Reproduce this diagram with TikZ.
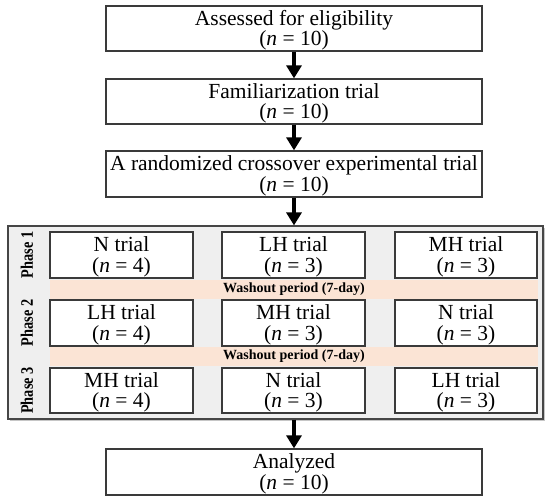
\documentclass[tikz,border=0pt]{standalone}
\usepackage{fontspec}
\setmainfont{Liberation Serif}
\usetikzlibrary{arrows.meta}
\definecolor{panelgray}{HTML}{EFEFEF}
\definecolor{peach}{HTML}{FBE4D5}
\definecolor{boxline}{HTML}{3A3A3A}
\newcommand{\tp}{\rule{0pt}{19pt}}
\begin{document}
\begin{tikzpicture}[x=1pt,y=-1pt,
  mainbox/.style={draw=boxline,line width=1.3pt,fill=white,inner sep=0pt,align=center,
     minimum width=376pt,font=\fontsize{21.5}{20.5}\selectfont},
  trialbox/.style={draw=boxline,line width=1.3pt,fill=white,inner sep=0pt,align=center,
     minimum width=143pt,minimum height=46pt,font=\fontsize{21.5}{20.5}\selectfont},
  washband/.style={fill=peach,draw=none,inner sep=0pt,minimum width=488pt,minimum height=19pt,
     font=\fontsize{14}{14}\selectfont\bfseries},
  phaselab/.style={rotate=90,inner sep=0pt,font=\fontsize{17.5}{17.5}\selectfont\bfseries},
  bigarrow/.style={line width=4pt,-{Triangle[width=15pt,length=13pt]}}
]
\useasboundingbox (0,0) rectangle (550,501);

% top boxes
\node[mainbox,minimum height=45pt] (b1) at (294,28.5) {\tp Assessed for eligibility\\(\textit{n} = 10)};
\node[mainbox,minimum height=45pt] (b2) at (294,101.5) {\tp Familiarization trial\\(\textit{n} = 10)};
\node[mainbox,minimum height=46pt] (b3) at (294,174) {\tp A randomized crossover experimental trial\\(\textit{n} = 10)};

% panel
\fill[gray!45] (9.5,227.5) rectangle (544.5,420.5);
\node[draw=gray!55!black,line width=1.2pt,fill=panelgray,minimum width=535pt,minimum height=193pt,inner sep=0pt] (panel) at (275.5,322.5) {};

% washout bands
\node[washband] (w1) at (294,289.5) {Washout period (7-day)};
\node[washband] (w2) at (294,356.5) {Washout period (7-day)};

% phase labels
\node[phaselab] (p1) at (27,255) {\scalebox{0.82}[1]{Phase 1}};
\node[phaselab] (p2) at (27,323) {\scalebox{0.82}[1]{Phase 2}};
\node[phaselab] (p3) at (27,390.5) {\scalebox{0.82}[1]{Phase 3}};

% trial boxes
\node[trialbox] (r1c1) at (121.5,255) {\tp N trial\\(\textit{n} = 4)};
\node[trialbox] (r1c2) at (293.5,255) {\tp LH trial\\(\textit{n} = 3)};
\node[trialbox,minimum width=142pt] (r1c3) at (466,255) {\tp MH trial\\(\textit{n} = 3)};
\node[trialbox] (r2c1) at (121.5,323) {\tp LH trial\\(\textit{n} = 4)};
\node[trialbox] (r2c2) at (293.5,323) {\tp MH trial\\(\textit{n} = 3)};
\node[trialbox,minimum width=142pt] (r2c3) at (466,323) {\tp N trial\\(\textit{n} = 3)};
\node[trialbox,minimum height=45pt] (r3c1) at (121.5,390.5) {\tp MH trial\\(\textit{n} = 4)};
\node[trialbox,minimum height=45pt] (r3c2) at (293.5,390.5) {\tp N trial\\(\textit{n} = 3)};
\node[trialbox,minimum height=45pt,minimum width=142pt] (r3c3) at (466,390.5) {\tp LH trial\\(\textit{n} = 3)};

% final box
\node[mainbox,minimum height=46pt] (b4) at (294,472) {\tp Analyzed\\(\textit{n} = 10)};

% arrows
\draw[bigarrow] (b1.south) -- (b2.north);
\draw[bigarrow] (b2.south) -- (b3.north);
\draw[bigarrow] (b3.south) -- (b3.south |- panel.north);
\draw[bigarrow] (b4.north |- panel.south) -- (b4.north);
\end{tikzpicture}
\end{document}
